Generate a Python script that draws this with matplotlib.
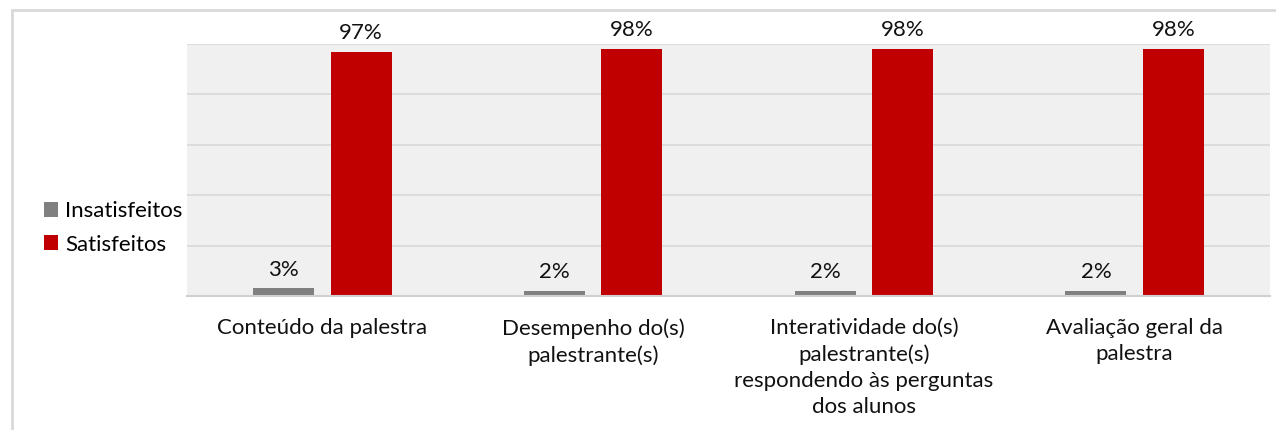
import numpy as np
import matplotlib.pyplot as plt
from matplotlib.patches import Rectangle

categories = ["Conteúdo da palestra", "Desempenho do(s)\npalestrante(s)",
              "Interatividade do(s)\npalestrante(s)\nrespondendo às perguntas\ndos alunos",
              "Avaliação geral da\npalestra"]
insatisfeitos = [0.03, 0.02, 0.02, 0.02]
satisfeitos = [0.97, 0.98, 0.98, 0.98]

plt.rcParams["font.family"] = ["Lato", "DejaVu Sans"]

fig = plt.figure(figsize=(12.76, 4.3), dpi=100)
# outer chart frame (cropped)
fig.patches.append(Rectangle((12 / 1276, -0.1), 1.2, (1 - 10 / 430) + 0.1,
                             transform=fig.transFigure, fill=False,
                             edgecolor="#D9D9D9", linewidth=2))

ax = fig.add_axes([187 / 1276, 1 - 296 / 430, (1270 - 187) / 1276, (296 - 44) / 430])
ax.set_facecolor("#F0F0F0")

x = np.arange(len(categories))
w = 0.225
gap = 0.061
b1 = ax.bar(x - (w + gap) / 2, insatisfeitos, w, color="#808080", label="Insatisfeitos")
b2 = ax.bar(x + (w + gap) / 2, satisfeitos, w, color="#C00000", label="Satisfeitos")

for bars, vals in [(b1, insatisfeitos), (b2, satisfeitos)]:
    for r, v in zip(bars, vals):
        ax.text(r.get_x() + r.get_width() / 2, v + 0.035, f"{round(v * 100)}%",
                ha="center", va="bottom", fontsize=16, color="#111111")

ax.set_xlim(-0.5, 3.5)
ax.set_ylim(0, 1.0)
ax.set_yticks(np.arange(0, 1.01, 0.2))
ax.set_yticklabels([])
ax.tick_params(axis="y", length=0)
ax.tick_params(axis="x", length=0, pad=16)
ax.grid(axis="y", color="#D9D9D9", linewidth=1.2)
ax.set_axisbelow(True)
for s in ["top", "right", "left"]:
    ax.spines[s].set_visible(False)
ax.spines["bottom"].set_color("#D0D0D0")
ax.spines["bottom"].set_linewidth(1.5)

ax.set_xticks(x)
ax.set_xticklabels(categories, fontsize=16, color="#111111", linespacing=1.38)

ax.legend(loc="center right", bbox_to_anchor=(0.004, 0.27), frameon=False,
          fontsize=16, handlelength=0.65, handleheight=0.65, handletextpad=0.3,
          labelspacing=0.6, borderaxespad=0)

plt.savefig("out.png", dpi=100)
